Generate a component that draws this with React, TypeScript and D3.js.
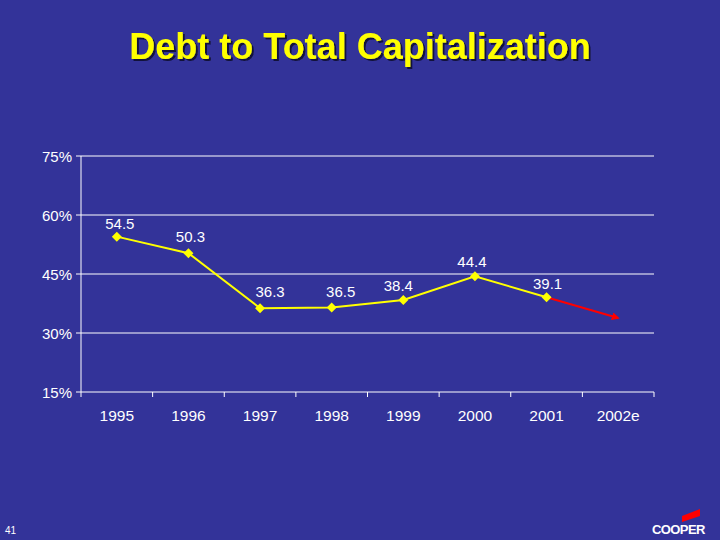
import React from "react";
import * as d3 from "d3";

const categories = ["1995", "1996", "1997", "1998", "1999", "2000", "2001", "2002e"];
const actualValues = [54.5, 50.3, 36.3, 36.5, 38.4, 44.4, 39.1];
const estimateValue = 33.8;
const yTicks = [15, 30, 45, 60, 75];
const labelDx = [3, 2, 10, 9, -5, -3, 1];
const labelDy = [-8, -11, -11, -10, -9, -9, -8];

const W = 720;
const H = 540;
const BG = "#333399";

export default function App() {
  const x = d3.scaleBand<string>().domain(categories).range([81, 654]);
  const y = d3.scaleLinear().domain([15, 75]).range([392, 156]);
  const cx = (c: string) => (x(c) as number) + x.bandwidth() / 2;

  const pts = actualValues.map((v, i) => [cx(categories[i]), y(v)] as [number, number]);
  const line = d3.line<[number, number]>()(pts) as string;
  const last = pts[pts.length - 1];
  const estPt: [number, number] = [cx(categories[7]), y(estimateValue)];

  const diamond = d3.symbol().type(d3.symbolSquare).size(50)() as string;

  const boundaries = categories.map((c) => x(c) as number).concat([654]);

  return (
    <svg
      width={W}
      height={H}
      style={{ position: "fixed", left: 0, top: 0, display: "block" }}
      fontFamily="Arial, 'Liberation Sans', sans-serif"
    >
      <defs>
        <marker id="arr" viewBox="0 0 10 10" refX="8" refY="5" markerWidth="4" markerHeight="4" orient="auto">
          <path d="M0,0 L10,5 L0,10 z" fill="#ff0000" />
        </marker>
        <filter id="shadow" x="-10%" y="-30%" width="120%" height="160%">
          <feDropShadow dx="2" dy="2" stdDeviation="0.6" floodColor="#111133" floodOpacity="0.9" />
        </filter>
      </defs>
      <rect width={W} height={H} fill={BG} />
      {/* title */}
      <text
        x={360}
        y={59}
        textAnchor="middle"
        fontSize={36}
        fontWeight="bold"
        fill="#ffff00"
        filter="url(#shadow)"
      >
        Debt to Total Capitalization
      </text>

      {/* grid */}
      {yTicks.map((t) => (
        <g key={t}>
          <line x1={76} x2={654} y1={y(t)} y2={y(t)} stroke="#ffffff" strokeWidth={1} />
          <text x={72} y={y(t) + 5.5} textAnchor="end" fontSize={15} fill="#ffffff">
            {t}%
          </text>
        </g>
      ))}
      <line x1={81} x2={81} y1={156} y2={392} stroke="#ffffff" strokeWidth={1} />
      {boundaries.map((b, i) => (
        <line key={i} x1={b} x2={b} y1={392} y2={397} stroke="#ffffff" strokeWidth={1} />
      ))}
      {categories.map((c) => (
        <text key={c} x={cx(c)} y={421} textAnchor="middle" fontSize={15.5} fill="#ffffff">
          {c}
        </text>
      ))}

      {/* estimate */}
      <line
        x1={last[0]}
        y1={last[1]}
        x2={estPt[0]}
        y2={estPt[1]}
        stroke="#ff0000"
        strokeWidth={2}
        markerEnd="url(#arr)"
      />
      {/* actual line */}
      <path d={line} fill="none" stroke="#ffff00" strokeWidth={2} />
      {pts.map((p, i) => (
        <path key={i} d={diamond} transform={`translate(${p[0]},${p[1]}) rotate(45)`} fill="#ffff00" />
      ))}
      {pts.map((p, i) => (
        <text
          key={"l" + i}
          x={p[0] + labelDx[i]}
          y={p[1] + labelDy[i]}
          textAnchor="middle"
          fontSize={15}
          fill="#ffffff"
        >
          {actualValues[i].toFixed(1)}
        </text>
      ))}

      {/* page number */}
      <text x={5} y={534} fontSize={10} fill="#ffffff">41</text>

      {/* logo */}
      <path d="M682,516 L700,509 L700,516 L682,522 z" fill="#ff0000" />
      <text x={652} y={534} fontSize={13} fontWeight="bold" fill="#ffffff" letterSpacing={-0.6}>
        COOPER
      </text>
    </svg>
  );
}
